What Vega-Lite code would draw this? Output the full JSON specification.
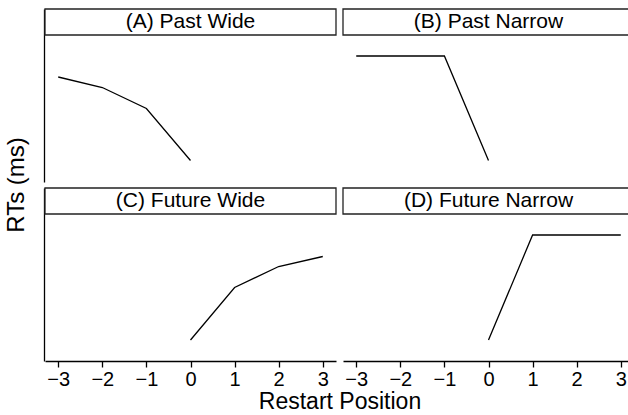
{
  "$schema": "https://vega.github.io/schema/vega-lite/v6.json",
  "padding": {"left": 4, "top": 8, "right": 0, "bottom": 0},
  "background": "white",
  "config": {
    "font": "Liberation Sans",
    "view": {"stroke": null},
    "header": {"titleFontWeight": "normal", "titleColor": "black", "titleFont": "Liberation Sans"}
  },
  "data": {
    "values": [
      {"time": "Past", "span": "Wide", "title": "(A) Past Wide", "pos": -3, "rt": 510},
      {"time": "Past", "span": "Wide", "title": "(A) Past Wide", "pos": -2, "rt": 489},
      {"time": "Past", "span": "Wide", "title": "(A) Past Wide", "pos": -1, "rt": 447},
      {"time": "Past", "span": "Wide", "title": "(A) Past Wide", "pos": 0, "rt": 343},
      {"time": "Past", "span": "Narrow", "title": "(B) Past Narrow", "pos": -3, "rt": 552},
      {"time": "Past", "span": "Narrow", "title": "(B) Past Narrow", "pos": -2, "rt": 552},
      {"time": "Past", "span": "Narrow", "title": "(B) Past Narrow", "pos": -1, "rt": 552},
      {"time": "Past", "span": "Narrow", "title": "(B) Past Narrow", "pos": 0, "rt": 343},
      {"time": "Future", "span": "Wide", "title": "(C) Future Wide", "pos": 0, "rt": 342},
      {"time": "Future", "span": "Wide", "title": "(C) Future Wide", "pos": 1, "rt": 447},
      {"time": "Future", "span": "Wide", "title": "(C) Future Wide", "pos": 2, "rt": 489},
      {"time": "Future", "span": "Wide", "title": "(C) Future Wide", "pos": 3, "rt": 509},
      {"time": "Future", "span": "Narrow", "title": "(D) Future Narrow", "pos": 0, "rt": 342},
      {"time": "Future", "span": "Narrow", "title": "(D) Future Narrow", "pos": 1, "rt": 552},
      {"time": "Future", "span": "Narrow", "title": "(D) Future Narrow", "pos": 2, "rt": 552},
      {"time": "Future", "span": "Narrow", "title": "(D) Future Narrow", "pos": 3, "rt": 552}
    ]
  },
  "facet": {
    "row": {"field": "time", "type": "nominal", "sort": ["Past", "Future"],
      "header": {"labels": false, "title": "RTs (ms)", "titleOrient": "left", "titleFontSize": 24, "titlePadding": 5}},
    "column": {"field": "span", "type": "nominal", "sort": ["Wide", "Narrow"],
      "header": {"labels": false, "title": "Restart Position", "titleOrient": "bottom", "titleFontSize": 23, "titlePadding": -8}}
  },
  "spacing": {"row": 5, "column": 5},
  "resolve": {"scale": {"x": "shared", "y": "shared"}},
  "spec": {
    "width": 291,
    "height": 173,
    "layer": [
      {
        "mark": {"type": "line", "color": "black", "strokeWidth": 1.3},
        "encoding": {
          "x": {"field": "pos", "type": "quantitative",
            "scale": {"domain": [-3.3, 3.3], "nice": false, "zero": false},
            "axis": {"title": null, "values": [-3, -2, -1, 0, 1, 2, 3], "grid": false, "domainColor": "black", "domainWidth": 1.3,
              "tickColor": "black", "tickWidth": 1.3, "tickSize": 6, "labelFontSize": 20, "labelColor": "black", "labelPadding": 2, "labelFlush": false}},
          "y": {"field": "rt", "type": "quantitative",
            "scale": {"domain": [300, 646], "nice": false, "zero": false},
            "axis": {"title": null, "grid": false, "ticks": false, "labels": false, "domainColor": "black", "domainWidth": 1.3, "minExtent": 0, "maxExtent": 0}}
        }
      },
      {
        "transform": [{"filter": "datum.pos == 0"}],
        "mark": {"type": "rect", "fill": "white", "stroke": "#222", "strokeWidth": 1.3},
        "encoding": {"x": {"datum": -3.3}, "x2": {"datum": 3.3}, "y": {"datum": 594}, "y2": {"datum": 646}}
      },
      {
        "transform": [{"filter": "datum.pos == 0"}],
        "mark": {"type": "text", "fontSize": 21, "color": "black", "baseline": "middle", "align": "center"},
        "encoding": {"x": {"datum": 0}, "y": {"datum": 620}, "text": {"field": "title"}}
      }
    ]
  }
}
